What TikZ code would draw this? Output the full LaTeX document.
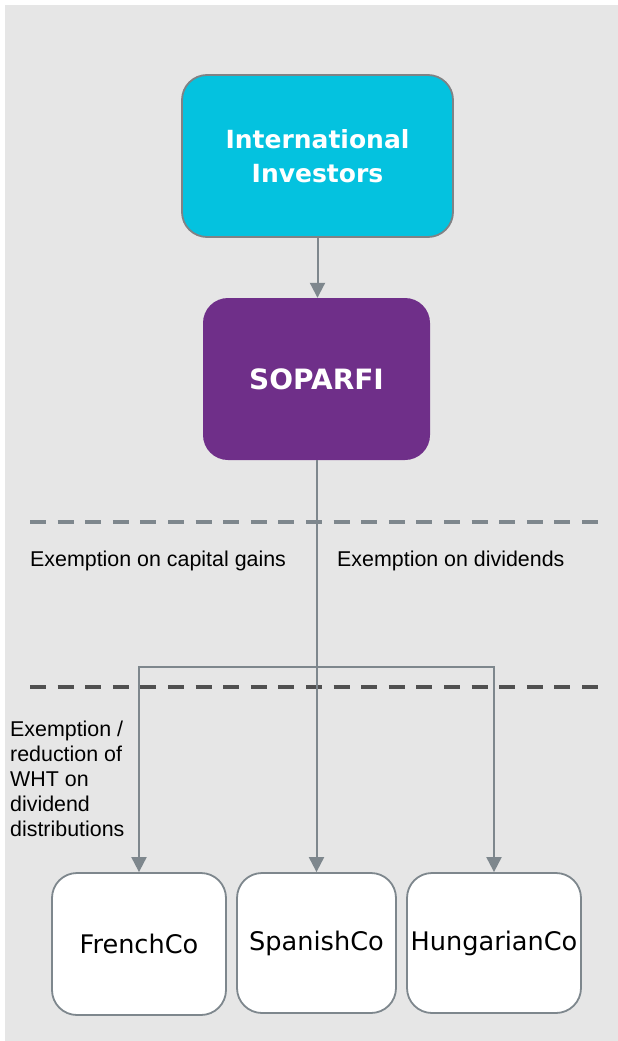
\documentclass[tikz,border=0pt]{standalone}
\usepackage{fontspec}
\setmainfont{Liberation Sans}
\newfontfamily\boxfont{DejaVu Sans}
\usetikzlibrary{arrows.meta}

\definecolor{pagegrey}{HTML}{E6E6E6}
\definecolor{investcyan}{HTML}{04C2DF}
\definecolor{soparfipurple}{HTML}{6F2F89}
\definecolor{linkgrey}{HTML}{7E878D}
\definecolor{edgegrey}{HTML}{808285}
\definecolor{darkdash}{HTML}{505050}

\tikzset{
  rbox/.style={rectangle, rounded corners=25pt, inner sep=0pt, align=center},
  topbox/.style={rbox, fill=investcyan, draw=edgegrey, line width=1.8pt,
    text=white, font=\boxfont\bfseries\fontsize{25}{34}\selectfont},
  midbox/.style={rbox, fill=soparfipurple, text=white,
    font=\boxfont\bfseries\fontsize{28}{34}\selectfont},
  cobox/.style={rbox, fill=white, draw=linkgrey, line width=1.8pt,
    font=\boxfont\fontsize{25.6}{30}\selectfont},
  link/.style={draw=linkgrey, line width=2pt},
  arrowlink/.style={link, -{Triangle[width=15pt,length=15pt]}},
  sepline/.style={line width=4pt, dash pattern=on 16pt off 11.6pt},
  note/.style={inner sep=0pt, font=\fontsize{21.4}{25}\selectfont}
}

\begin{document}
\begin{tikzpicture}[x=1pt, y=-1pt]
  \useasboundingbox (0,0) rectangle (618,1041);
  \fill[pagegrey] (5,5) rectangle (618,1041);

  % boxes
  \node[topbox, minimum width=271pt, minimum height=162pt] (intl) at (317.5,156)
    {International\\Investors};
  \node[midbox, minimum width=227pt, minimum height=162pt] (sop) at (316.5,379)
    {SOPARFI};
  \node[cobox, minimum width=174pt, minimum height=142pt] (french) at (139,944)
    {\raisebox{-2pt}{FrenchCo}};
  \node[cobox, minimum width=159pt, minimum height=140pt] (spanish) at (316.5,943)
    {SpanishCo};
  \node[cobox, minimum width=174pt, minimum height=140pt] (hung) at (494,943)
    {HungarianCo};

  % dashed separators
  \draw[sepline, draw=linkgrey] (30,522) -- (598,522);
  \draw[sepline, draw=darkdash] (30,687) -- (598,687);

  % connectors
  \draw[arrowlink] (intl.south) -- (intl.south |- sop.north);
  \coordinate (split) at (316.5,667);
  \draw[arrowlink] (sop.south) -- (spanish.north);
  \draw[arrowlink] (split) -| (french.north);
  \draw[arrowlink] (split) -| (hung.north);

  % notes
  \node[note, anchor=base west] (capgains) at (30,566) {Exemption on capital gains};
  \node[note, anchor=base west] (divs) at (337,566) {Exemption on dividends};
  \node[note, anchor=north west, align=left] (wht) at (10,721)
    {Exemption /\\reduction of\\WHT on\\dividend\\distributions};
\end{tikzpicture}
\end{document}
